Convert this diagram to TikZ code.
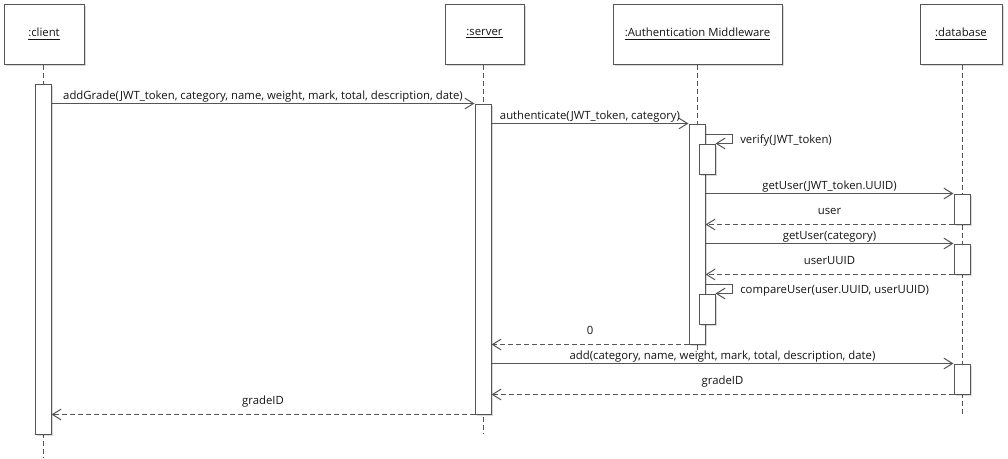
\documentclass[tikz,border=0pt]{standalone}
\usepackage{fontspec}
\setmainfont{Open Sans}
\usetikzlibrary{arrows.meta,shadows}
\definecolor{ink}{RGB}{85,85,85}
\definecolor{txt}{RGB}{20,20,20}
\begin{document}
\begin{tikzpicture}[x=0.75pt,y=-0.75pt,
  font=\fontsize{8.5}{10}\selectfont,
  every node/.style={text=txt},
  shade/.style={drop shadow={shadow xshift=1.2pt,shadow yshift=-1.2pt,opacity=.15,fill=black}},
  head/.style={draw=ink,fill=white,line width=0.75pt,minimum height=45pt,inner sep=0pt,shade},
  actbar/.style={draw=ink,fill=white,line width=0.75pt,minimum width=12pt,inner sep=0pt,shade},
  life/.style={draw=ink,line width=0.75pt,dash pattern=on 3.75pt off 2.25pt},
  call/.style={draw=ink,line width=0.75pt,-{Straight Barb[length=6.5pt,width=8pt]}},
  reply/.style={call,dash pattern=on 3.75pt off 2.25pt},
  calllbl/.style={midway,anchor=base,yshift=3pt},
  replylbl/.style={midway,anchor=base,yshift=7.5pt},
  selflbl/.style={anchor=base west,xshift=2.5pt},
]
\useasboundingbox (0,0) rectangle (1008,458);

% participants
\node[head,minimum width=60pt]     (client) at (44,34)    {\underline{:client}};
\node[head,minimum width=59.25pt]  (server) at (484.5,34) {\underline{:server}};
\node[head,minimum width=126.75pt] (auth)   at (697.5,34) {\underline{:Authentication Middleware}};
\node[head,minimum width=61.5pt]   (db)     at (961,34)   {\underline{:database}};

% lifeline ends
\coordinate (cend) at (43,458);
\coordinate (send) at (483,433);
\coordinate (aend) at (697,353);
\coordinate (dend) at (962,414);

% lifelines
\draw[life] (cend |- client.south) -- (cend);
\draw[life] (send |- server.south) -- (send);
\draw[life] (aend |- auth.south) -- (aend);
\draw[life] (dend |- db.south) -- (dend);

% activation bars
\node[actbar,minimum height=262.5pt] (cbar)  at (43,259)  {};
\node[actbar,minimum height=232.5pt] (sbar)  at (483,259) {};
\node[actbar,minimum height=165pt]   (abar)  at (697,234) {};
\node[actbar,minimum height=22.5pt]  (vbar)  at (707,159) {};
\node[actbar,minimum height=22.5pt]  (ubar)  at (707,309) {};
\node[actbar,minimum height=22.5pt]  (dbar1) at (962,209) {};
\node[actbar,minimum height=22.5pt]  (dbar2) at (962,259) {};
\node[actbar,minimum height=22.5pt]  (dbar3) at (962,379) {};

% loop corners of the self calls
\coordinate (vloop) at (732,134);
\coordinate (uloop) at (732,284);

% messages
\draw[call] (cbar.east |- sbar.north) -- node[calllbl] {addGrade(JWT\_token, category, name, weight, mark, total, description, date)} (sbar.north west);
\draw[call] (sbar.east |- abar.north) -- node[calllbl] {authenticate(JWT\_token, category)} (abar.north west);
\draw[call] (abar.east |- vloop) -- (vloop) -- (vloop |- vbar.north) node[selflbl] {verify(JWT\_token)} -- (vbar.north east);
\draw[call] (abar.east |- dbar1.north) -- node[calllbl] {getUser(JWT\_token.UUID)} (dbar1.north west);
\draw[reply] (dbar1.south west) -- node[replylbl] {user} (abar.east |- dbar1.south);
\draw[call] (abar.east |- dbar2.north) -- node[calllbl] {getUser(category)} (dbar2.north west);
\draw[reply] (dbar2.south west) -- node[replylbl] {userUUID} (abar.east |- dbar2.south);
\draw[call] (abar.east |- uloop) -- (uloop) -- (uloop |- ubar.north) node[selflbl] {compareUser(user.UUID, userUUID)} -- (ubar.north east);
\draw[reply] (abar.south west) -- node[replylbl] {0} (sbar.east |- abar.south);
\draw[call] (sbar.east |- dbar3.north) -- node[calllbl] {add(category, name, weight, mark, total, description, date)} (dbar3.north west);
\draw[reply] (dbar3.south west) -- node[replylbl] {gradeID} (sbar.east |- dbar3.south);
\draw[reply] (sbar.south west) -- node[replylbl] {gradeID} (cbar.east |- sbar.south);
\end{tikzpicture}
\end{document}
